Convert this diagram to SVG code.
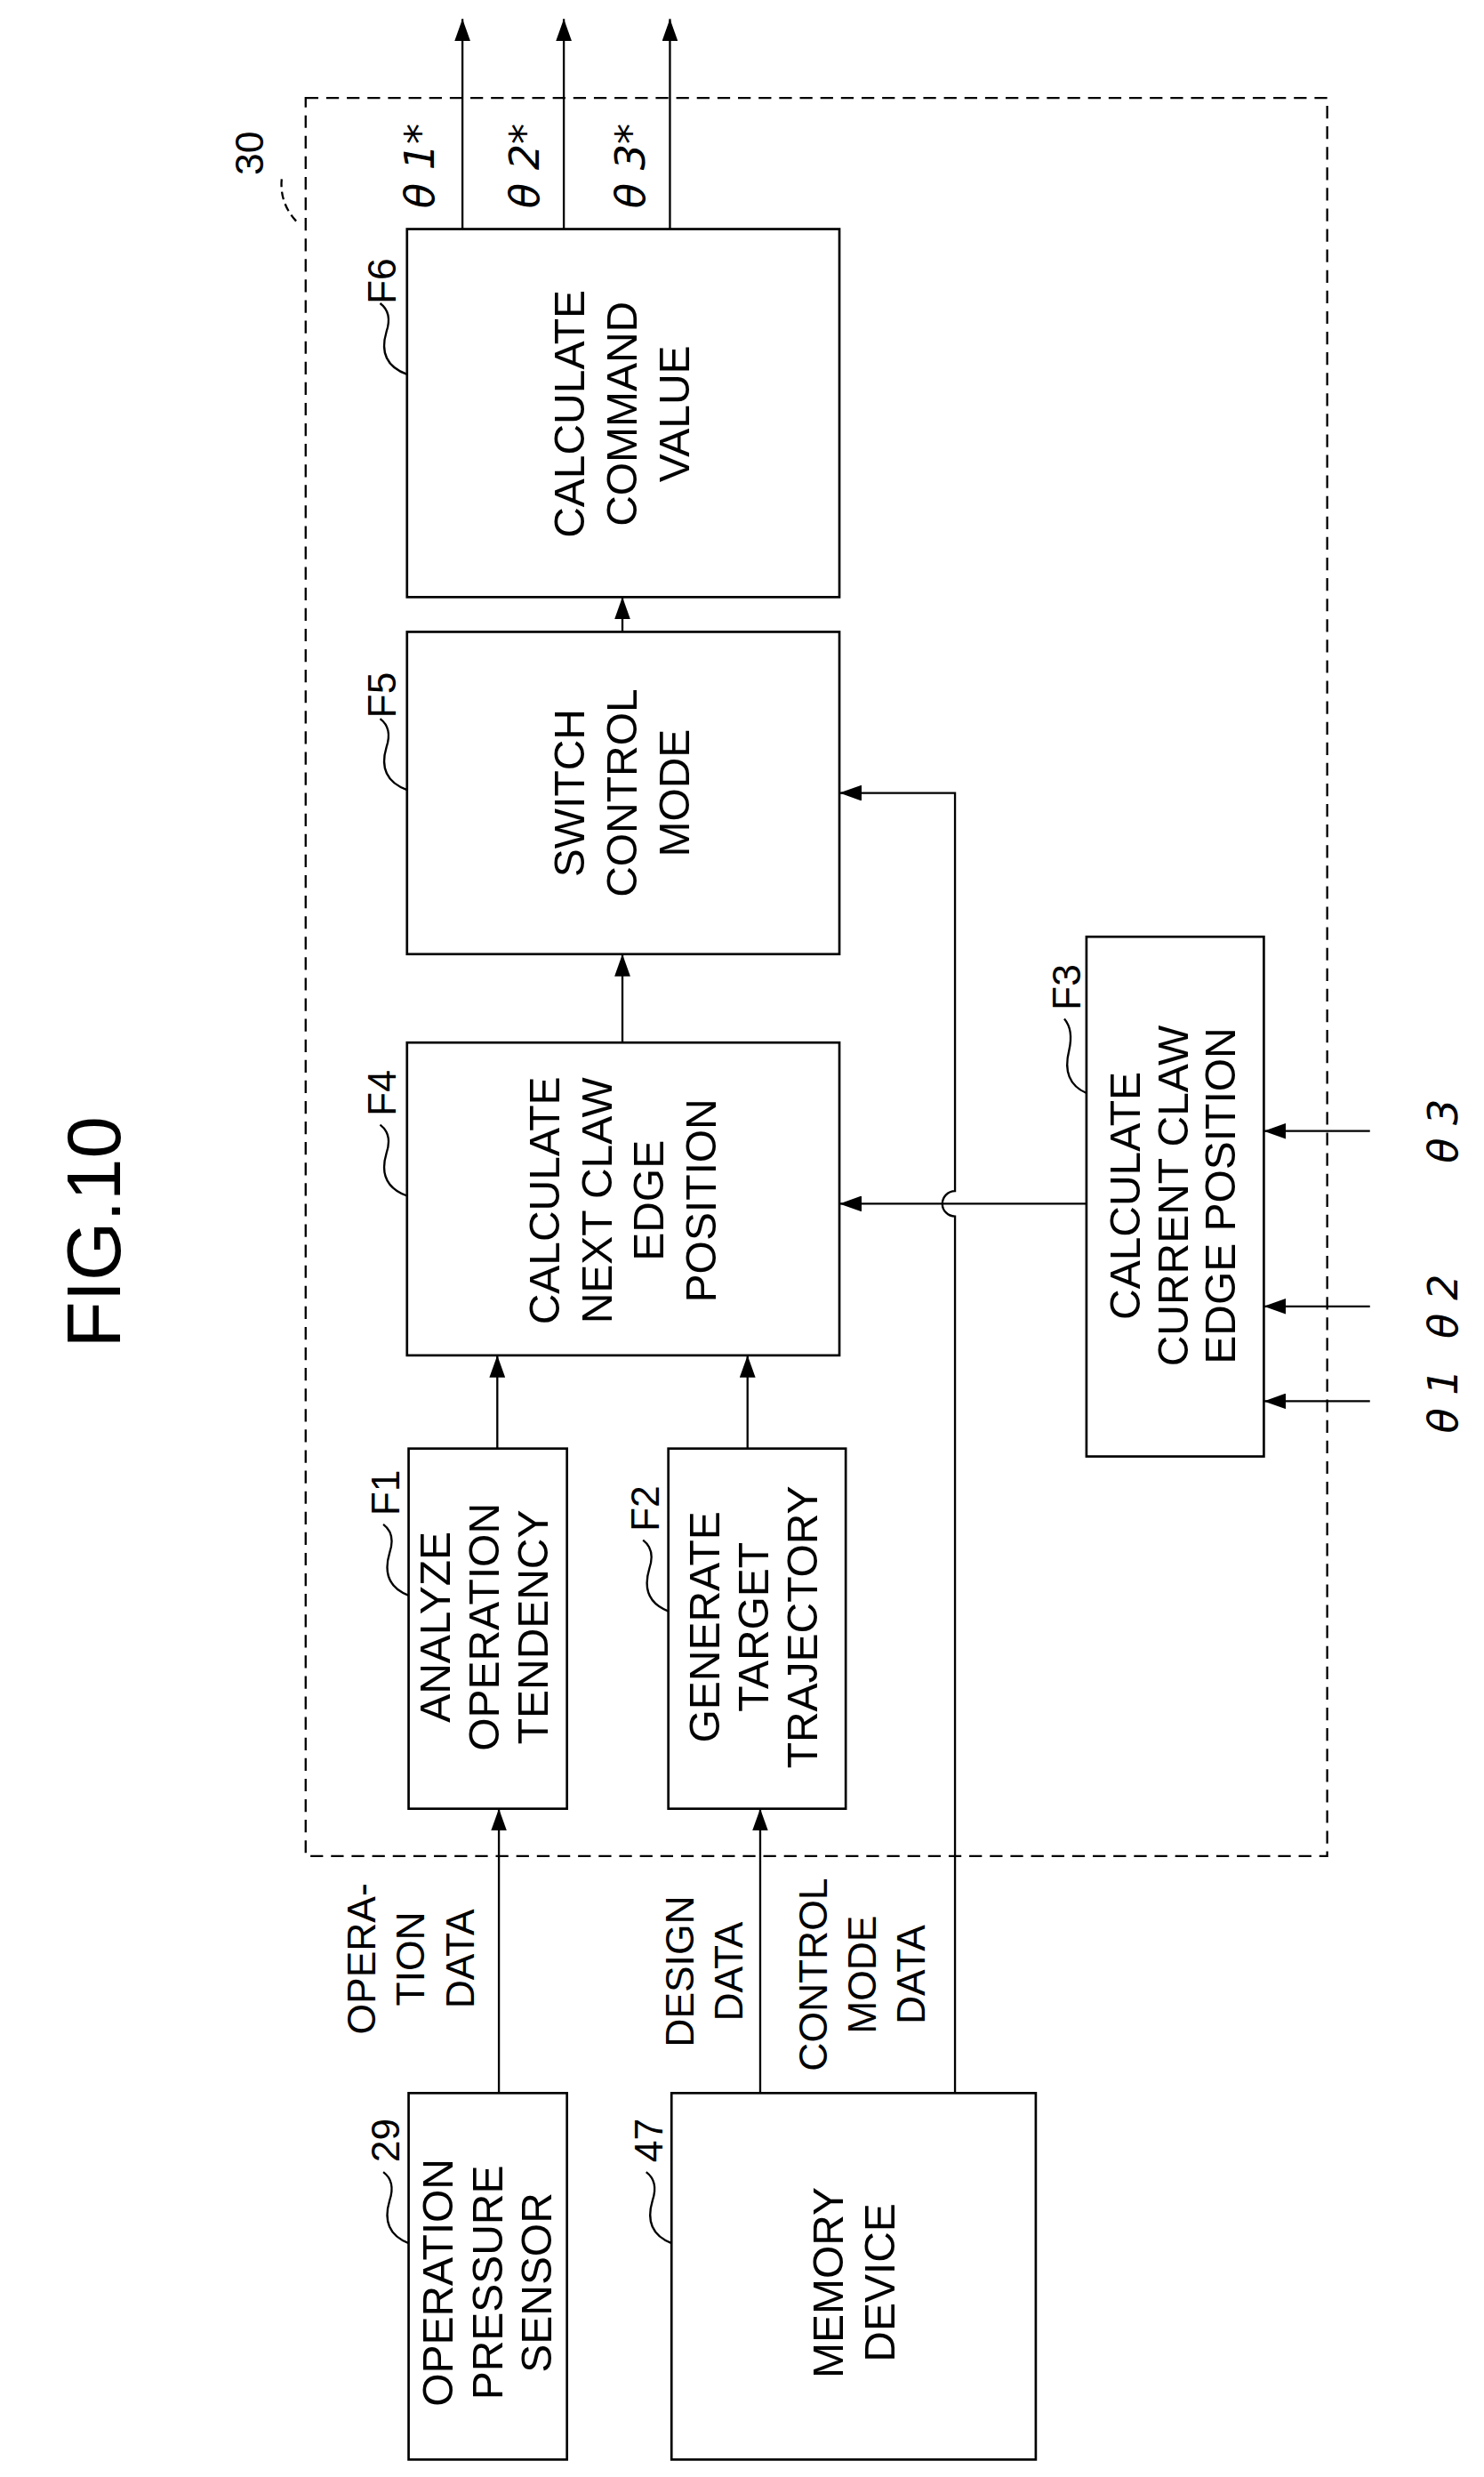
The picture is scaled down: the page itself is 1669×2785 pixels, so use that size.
<svg xmlns="http://www.w3.org/2000/svg" width="1669" height="2785" viewBox="0 0 1669 2785">
<style>
.b{fill:#fff;stroke:#000;stroke-width:1.5}
.l{fill:none;stroke:#000;stroke-width:1.3}
.t{font-family:"Liberation Sans",Arial,sans-serif;font-size:27px;text-anchor:middle;fill:#000}
.r{font-family:"Liberation Sans",Arial,sans-serif;font-size:25px;text-anchor:middle;fill:#000}
.g{font-family:"DejaVu Sans","Liberation Sans",sans-serif;font-size:26px;font-style:italic;text-anchor:middle;fill:#000}
</style>
<defs>
<marker id="a" viewBox="0 0 14 10" refX="14" refY="5" markerWidth="14" markerHeight="10" markerUnits="userSpaceOnUse" orient="auto"><path d="M0,0L14,5L0,10z" fill="#000"/></marker>
</defs>
<rect width="1669" height="2785" fill="#fff"/>
<g transform="scale(1.7812,1.7761)">
<text class="t" style="font-size:48px" transform="translate(76,780) rotate(-90)">FIG.10</text>
<g id="frame30">
<rect x="193" y="62" width="645" height="1113" fill="none" stroke="#000" stroke-width="1.3" stroke-dasharray="8,5"/>
<path class="l" d="M187,140 Q176,128 178,112" stroke-dasharray="5,3"/>
<text class="r" transform="translate(166,97) rotate(-90)">30</text>
</g>
<g id="connectors">
<path class="l" d="M292,145V12" marker-end="url(#a)"/>
<path class="l" d="M356,145V12" marker-end="url(#a)"/>
<path class="l" d="M423,145V12" marker-end="url(#a)"/>
<path class="l" d="M393,400V378" marker-end="url(#a)"/>
<path class="l" d="M393,660V604" marker-end="url(#a)"/>
<path class="l" d="M314,917V858" marker-end="url(#a)"/>
<path class="l" d="M472,917V858" marker-end="url(#a)"/>
<path class="l" d="M686,762H530" marker-end="url(#a)"/>
<path class="l" d="M603,1325V770A8,8 0 0 1 603,754V502H530" marker-end="url(#a)"/>
<path class="l" d="M315,1325V1145" marker-end="url(#a)"/>
<path class="l" d="M480,1325V1145" marker-end="url(#a)"/>
<path class="l" d="M865,887H798" marker-end="url(#a)"/>
<path class="l" d="M865,827H798" marker-end="url(#a)"/>
<path class="l" d="M865,716H798" marker-end="url(#a)"/>
<text class="g" transform="translate(274,105) rotate(-90)">θ 1*</text>
<text class="g" transform="translate(340,105) rotate(-90)">θ 2*</text>
<text class="g" transform="translate(407,105) rotate(-90)">θ 3*</text>
<text class="g" transform="translate(920,887) rotate(-90)">θ 1</text>
<text class="g" transform="translate(920,827) rotate(-90)">θ 2</text>
<text class="g" transform="translate(920,716) rotate(-90)">θ 3</text>
<text class="r" transform="translate(237,1240) rotate(-90)"><tspan x="0" y="0">OPERA-</tspan><tspan x="0" y="31">TION</tspan><tspan x="0" y="62">DATA</tspan></text>
<text class="r" transform="translate(438,1248) rotate(-90)"><tspan x="0" y="0">DESIGN</tspan><tspan x="0" y="31">DATA</tspan></text>
<text class="r" transform="translate(522,1250) rotate(-90)"><tspan x="0" y="0">CONTROL</tspan><tspan x="0" y="31">MODE</tspan><tspan x="0" y="62">DATA</tspan></text>
</g>
<g id="F6">
<rect class="b" x="257" y="145" width="273" height="233"/>
<text class="t" transform="translate(393,262) rotate(-90)"><tspan x="0" y="-24">CALCULATE</tspan><tspan x="0" y="9">COMMAND</tspan><tspan x="0" y="42">VALUE</tspan></text>
<path class="l" d="M257,237Q238,230 244,210Q248,198 240,192"/>
<text class="r" transform="translate(250,178) rotate(-90)">F6</text>
</g>
<g id="F5">
<rect class="b" x="257" y="400" width="273" height="204"/>
<text class="t" transform="translate(393,502) rotate(-90)"><tspan x="0" y="-24">SWITCH</tspan><tspan x="0" y="9">CONTROL</tspan><tspan x="0" y="42">MODE</tspan></text>
<path class="l" d="M257,500Q238,493 244,473Q248,461 240,455"/>
<text class="r" transform="translate(250,440) rotate(-90)">F5</text>
</g>
<g id="F4">
<rect class="b" x="257" y="660" width="273" height="198"/>
<text class="t" transform="translate(393,760) rotate(-90)"><tspan x="0" y="-40">CALCULATE</tspan><tspan x="0" y="-7">NEXT CLAW</tspan><tspan x="0" y="26">EDGE</tspan><tspan x="0" y="59">POSITION</tspan></text>
<path class="l" d="M257,757Q238,750 244,730Q248,718 240,712"/>
<text class="r" transform="translate(250,692) rotate(-90)">F4</text>
</g>
<g id="F3">
<rect class="b" x="686" y="593" width="112" height="329"/>
<text class="t" transform="translate(742,757) rotate(-90)"><tspan x="0" y="-22">CALCULATE</tspan><tspan x="0" y="8">CURRENT CLAW</tspan><tspan x="0" y="38">EDGE POSITION</tspan></text>
<path class="l" d="M686,692Q670,685 675,665Q678,652 672,645"/>
<text class="r" transform="translate(682,625) rotate(-90)">F3</text>
</g>
<g id="F1">
<rect class="b" x="258" y="917" width="100" height="228"/>
<text class="t" transform="translate(308,1030) rotate(-90)"><tspan x="0" y="-24">ANALYZE</tspan><tspan x="0" y="7">OPERATION</tspan><tspan x="0" y="38">TENDENCY</tspan></text>
<path class="l" d="M258,1010Q240,1003 246,983Q250,971 242,965"/>
<text class="r" transform="translate(252,945) rotate(-90)">F1</text>
</g>
<g id="F2">
<rect class="b" x="422" y="917" width="112" height="228"/>
<text class="t" transform="translate(478,1030) rotate(-90)"><tspan x="0" y="-24">GENERATE</tspan><tspan x="0" y="7">TARGET</tspan><tspan x="0" y="38">TRAJECTORY</tspan></text>
<path class="l" d="M422,1020Q404,1013 410,993Q414,981 406,975"/>
<text class="r" transform="translate(416,955) rotate(-90)">F2</text>
</g>
<g id="n29">
<rect class="b" x="258" y="1325" width="100" height="232"/>
<text class="t" transform="translate(310,1445) rotate(-90)"><tspan x="0" y="-24">OPERATION</tspan><tspan x="0" y="7">PRESSURE</tspan><tspan x="0" y="38">SENSOR</tspan></text>
<path class="l" d="M258,1420Q240,1413 246,1393Q250,1381 242,1375"/>
<text class="r" transform="translate(252,1355) rotate(-90)">29</text>
</g>
<g id="n47">
<rect class="b" x="424" y="1325" width="230" height="232"/>
<text class="t" transform="translate(540,1445) rotate(-90)"><tspan x="0" y="-8">MEMORY</tspan><tspan x="0" y="25">DEVICE</tspan></text>
<path class="l" d="M424,1420Q406,1413 412,1393Q416,1381 408,1375"/>
<text class="r" transform="translate(418,1355) rotate(-90)">47</text>
</g>
</g>
</svg>
